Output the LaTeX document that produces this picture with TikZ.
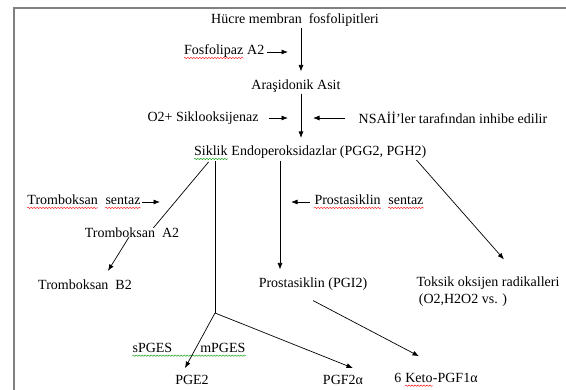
\documentclass[tikz,border=0pt]{standalone}
\usepackage{fontspec}
\setmainfont{Liberation Serif}
\usetikzlibrary{arrows.meta,decorations.pathmorphing}

\newcommand{\wavy}[2]{\tikz[baseline=(w.base)]{\node[inner sep=0pt,anchor=base] (w) {#2}; \draw[#1,line width=0.4pt,decorate,decoration={snake,amplitude=0.7pt,segment length=3pt}] ([yshift=-3pt]w.base west) -- ([yshift=-3pt]w.base east);}}

\begin{document}
\begin{tikzpicture}[x=1pt,y=1pt]

\tikzset{lbl/.style = {inner sep=1pt, font=\fontsize{14}{16}\selectfont},
	arr/.style = {-{Latex[length=6.5pt,width=5pt]}, line width=0.7pt},
	ln/.style = {line width=0.7pt}}

\useasboundingbox (0,0) rectangle (566,390);
\draw[gray, line width=1.5pt] (14,0) -- (14,382) -- (566,382);

% labels
\node[lbl] (hucre) at (295,370) {Hücre membran\ \ fosfolipitleri};
\node[lbl] (fosfo) at (224,338) {\wavy{red}{Fosfolipaz} A2};
\node[lbl] (arasi) at (296,304) {Araşidonik Asit};
\node[lbl] (siklo) at (203,272) {O2+ Siklooksijenaz};
\node[lbl] (nsaii) at (453,272) {NSAİİ’ler tarafından inhibe edilir};
\node[lbl] (siklik) at (310,237) {\wavy{green!60!black}{Siklik} Endoperoksidazlar (PGG2, PGH2)};
\node[lbl] (trsent) at (84,188) {\wavy{red}{Tromboksan}\ \ \wavy{red}{sentaz}};
\node[lbl] (trA2) at (132,157) {Tromboksan\ \ A2};
\node[lbl] (trB2) at (85,105) {Tromboksan\ \ B2};
\node[lbl] (prsent) at (369,188) {\wavy{red}{Prostasiklin}\ \ \wavy{red}{sentaz}};
\node[lbl] (prost) at (313,106) {Prostasiklin (PGI2)};
\node[lbl] (toksik) at (488,107) {Toksik oksijen radikalleri};
\node[lbl] (toksik2) at (463,90) {(O2,H2O2 vs. )};
\node[lbl] (pges) at (189,40) {\wavy{green!60!black}{sPGES\hspace{28pt}mPGES}};
\node[lbl] (pge2) at (192,10) {PGE2};
\node[lbl] (pgf2a) at (343,10) {PGF2α};
\node[lbl] (keto) at (436,10) {6 \wavy{red}{Keto}-PGF1α};

% main axis
\coordinate (ax) at (301,0);
\coordinate (prx) at (280,0);
\coordinate (fork) at (215,77);
\coordinate (trtip) at (160,188);

\draw[arr, shorten >=7pt] (hucre.south -| ax) -- (arasi.north -| ax);
\draw[arr, shorten >=7pt] (arasi.south -| ax) -- (siklik.north -| ax);
\draw[arr, shorten <=2pt, shorten >=13pt] (fosfo.east) -- (fosfo.east -| ax);
\draw[arr, shorten <=9pt, shorten >=13pt] (siklo.east) -- (siklo.east -| ax);
\draw[arr, shorten <=13pt, shorten >=12pt] (nsaii.west) -- (nsaii.west -| ax);

% branches
\draw[ln] ([xshift=16pt,yshift=-1pt]siklik.south west) -- ([xshift=-27pt,yshift=-1pt]trA2.north east);
\draw[arr] (trsent.east) -- (trtip);
\draw[arr] ([xshift=-3pt,yshift=2pt]trA2.south) -- ([xshift=23pt,yshift=8pt]trB2.north);

\draw[ln] (siklik.south -| fork) -- (fork);
\draw[arr] (fork) -- ([xshift=-7pt,yshift=6pt]pge2.north);
\draw[arr] (fork) -- ([xshift=10pt,yshift=6pt]pgf2a.north);

\draw[arr, shorten >=7pt] (siklik.south -| prx) -- (prost.north -| prx);
\draw[arr, shorten <=3pt, shorten >=11pt] (prsent.west) -- (prsent.west -| prx);
\draw[arr] ([yshift=-9pt]prost.south) -- ([xshift=-17pt,yshift=16pt]keto.north);

\draw[arr] ([xshift=-11pt,yshift=1pt]siklik.south east) -- ([xshift=16pt,yshift=16pt]toksik.north);

\end{tikzpicture}
\end{document}
